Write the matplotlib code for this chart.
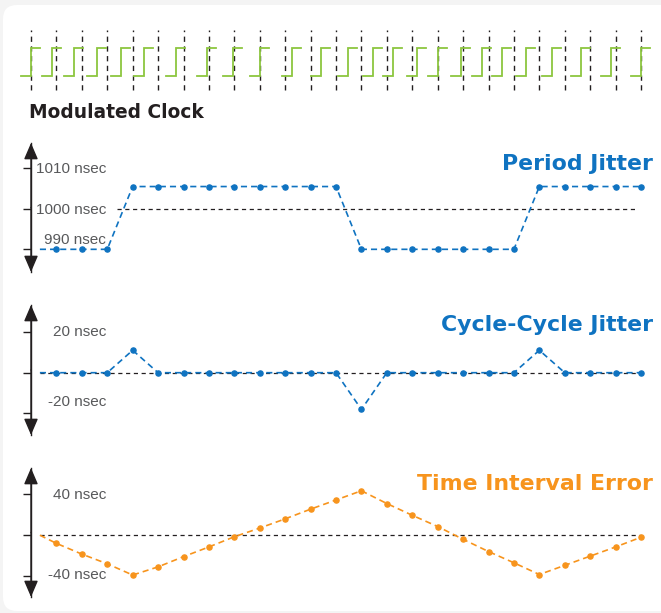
import matplotlib
matplotlib.use("Agg")
import matplotlib.pyplot as plt
import matplotlib.transforms as mtransforms
from matplotlib.patches import FancyBboxPatch
import numpy as np

W, H = 661, 613
EDGE_PX, EDGE0_PX = 25.417, 31.0

# clock edge index of every sample (edge 0 is the reference edge)
edges = np.arange(1, 25)

# measured rising edges of the modulated clock, in ideal-period units
clock_rise = [0.0, 0.81, 1.69, 2.58, 3.53, 4.45, 5.70, 6.92, 7.95, 9.01,
              10.27, 11.40, 12.48, 13.44, 14.23, 15.20, 16.02, 16.91, 17.73,
              18.53, 19.48, 20.49, 21.63, 22.82, 24.0]

period_ns = [990, 990, 990,
             1005.5, 1005.5, 1005.5, 1005.5, 1005.5, 1005.5, 1005.5, 1005.5, 1005.5,
             990, 990, 990, 990, 990, 990, 990,
             1005.5, 1005.5, 1005.5, 1005.5, 1005.5]
cycle_ns = [0, 0, 0, 11, 0, 0, 0, 0, 0, 0, 0, 0,
            -18, 0, 0, 0, 0, 0, 0, 11, 0, 0, 0, 0]
tie_ns = [-8, -18.5, -28, -39, -31, -21, -11.5, -1.5, 7, 16, 25.5, 34.5,
          43.5, 31, 19.5, 8.5, -4, -16, -27, -38.5, -29.5, -20.5, -11.5, -2]

period_ticks = [990, 1000, 1010]
cycle_ticks = [-20, 0, 20]
tie_ticks = [-40, 0, 40]

INK = "#231f20"
LABEL = "#58595b"
BLUE = "#0f73c1"
ORANGE = "#f7941d"
GREEN = "#8cc63f"

plt.rcParams["font.family"] = ["Liberation Sans", "DejaVu Sans"]
plt.rcParams["lines.scale_dashes"] = False

fig = plt.figure(figsize=(W / 100, H / 100), dpi=100)
fig.patch.set_facecolor("#f4f4f4")

XLIM = (-EDGE0_PX / EDGE_PX, (W - EDGE0_PX) / EDGE_PX)
LEAD_IN = 0.35  # traces start just right of the y axis


def px_axes(top, bottom):
    return fig.add_axes([0, 1 - bottom / H, 1, (bottom - top) / H])


def ftext(x, y, s, **kw):
    fig.text(x / W, 1 - y / H, s, **kw)


# white card behind everything
bg = fig.add_axes([0, 0, 1, 1])
bg.set_xlim(0, W)
bg.set_ylim(H, 0)
bg.axis("off")
bg.add_patch(FancyBboxPatch((3, 5), 700, 606,
                            boxstyle="round,pad=0,rounding_size=14",
                            fc="white", ec="none"))

# modulated clock
ax = px_axes(20, 100)
ax.set_xlim(*XLIM)
ax.set_ylim(-0.857, 2.0)
ax.axis("off")
for k in range(25):
    ax.plot([k, k], [-0.5, 1.64], color=INK, lw=1.0, dashes=(3.8, 3.2))
for r in clock_rise:
    ax.plot([r - 0.39, r, r, r + 0.36], [0, 0, 1, 1], color=GREEN, lw=1.3,
            solid_joinstyle="miter")
ftext(29, 118, "Modulated Clock", family="DejaVu Sans", weight="bold",
      fontsize=13.4, color=INK, va="baseline")


def jitter_panel(top, bottom, ylim, ticks):
    ax = px_axes(top, bottom)
    ax.set_xlim(*XLIM)
    ax.set_ylim(*ylim)
    ax.patch.set_alpha(0)
    for s in ["top", "right", "bottom"]:
        ax.spines[s].set_visible(False)
    ax.spines["left"].set_position(("data", 0))
    ax.spines["left"].set_linewidth(1.0)
    ax.spines["left"].set_color(INK)
    ax.set_xticks([])
    ax.set_yticks(ticks)
    ax.tick_params(axis="y", length=5.8, width=1, color=INK,
                   direction="out", labelleft=False)
    trans = mtransforms.blended_transform_factory(ax.transData, ax.transAxes)
    for end in (0, 1):
        ax.annotate("", xy=(0, end), xytext=(0, 0.5), xycoords=trans,
                    textcoords=trans, annotation_clip=False,
                    arrowprops=dict(arrowstyle="-|>,head_length=1.0,head_width=0.43",
                                    mutation_scale=10, color=INK, lw=1,
                                    shrinkA=0, shrinkB=0))
    return ax


def trace(ax, values, lead, color):
    ax.plot(np.r_[LEAD_IN, edges], np.r_[lead, values], color=color, lw=1.2,
            dashes=(4.4, 2.9), marker="o", markersize=3.7, markevery=range(1, 25),
            zorder=3)


# period jitter
ax = jitter_panel(143, 272, (984.4, 1016.25), period_ticks)
ax.plot([3.38, 23.76], [1000, 1000], color=INK, lw=0.9, dashes=(3.0, 2.6))
trace(ax, period_ns, period_ns[0], BLUE)
ftext(653, 170, "Period Jitter", family="DejaVu Sans", weight="bold",
      fontsize=15.8, color=BLUE, ha="right", va="baseline")
ftext(106, 172.7, "1010 nsec", fontsize=11, color=LABEL, ha="right", va="baseline")
ftext(106, 214.5, "1000 nsec", fontsize=11, color=LABEL, ha="right", va="baseline")
ftext(106, 243.5, "990 nsec", fontsize=11, color=LABEL, ha="right", va="baseline")

# cycle-cycle jitter
ax = jitter_panel(305, 435, (-30.54, 33.19), cycle_ticks)
ax.plot([LEAD_IN, 24], [0, 0], color=INK, lw=0.9, dashes=(3.0, 2.6))
trace(ax, cycle_ns, 0, BLUE)
ftext(653, 331, "Cycle-Cycle Jitter", family="DejaVu Sans", weight="bold",
      fontsize=15.8, color=BLUE, ha="right", va="baseline")
ftext(106, 336.5, "20 nsec", fontsize=11, color=LABEL, ha="right", va="baseline")
ftext(106, 406.5, "-20 nsec", fontsize=11, color=LABEL, ha="right", va="baseline")

# time interval error
ax = jitter_panel(468, 597, (-60.5, 65.8), tie_ticks)
ax.plot([LEAD_IN, 24], [0, 0], color=INK, lw=0.9, dashes=(3.0, 2.6))
trace(ax, tie_ns, 0, ORANGE)
ftext(653, 490, "Time Interval Error", family="DejaVu Sans", weight="bold",
      fontsize=15.8, color=ORANGE, ha="right", va="baseline")
ftext(106, 499, "40 nsec", fontsize=11, color=LABEL, ha="right", va="baseline")
ftext(106, 579, "-40 nsec", fontsize=11, color=LABEL, ha="right", va="baseline")

fig.savefig("out.png", dpi=100, facecolor=fig.get_facecolor())
